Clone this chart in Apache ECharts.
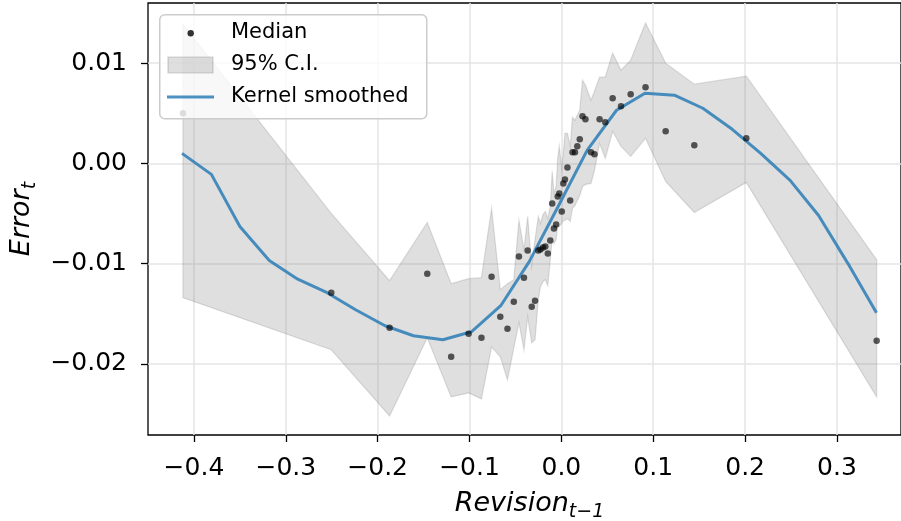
<!DOCTYPE html>
<html>
<head>
<meta charset="utf-8">
<title>Error vs revision</title>
<script src="https://cdn.jsdelivr.net/npm/echarts@6/dist/echarts.min.js"></script>
</head>
<body style="margin:0">
<div id="main" style="width:901px;height:521px;"></div>
<script>
// medians by revision bin, with 95% C.I. bounds
var medX = [-0.412, -0.2505, -0.187, -0.146, -0.120, -0.101, -0.087, -0.076, -0.0665, -0.0587,
            -0.0518, -0.0462, -0.0407, -0.0367, -0.0323, -0.0287, -0.0251, -0.0228, -0.0200, -0.0175,
            -0.0148, -0.0121, -0.0100, -0.0081, -0.0057, -0.0040, -0.0023, 0.0004, 0.0021, 0.0039,
            0.0066, 0.0096, 0.0121, 0.0148, 0.0173, 0.0200, 0.0230, 0.0262, 0.0322, 0.0360,
            0.0416, 0.0478, 0.0558, 0.0649, 0.0754, 0.0916, 0.1135, 0.1447, 0.2013, 0.3432];
var medY = [0.0050, -0.0129, -0.0164, -0.0110, -0.0193, -0.0170, -0.0174, -0.0113, -0.0153, -0.0165,
            -0.0138, -0.0093, -0.0114, -0.0087, -0.0143, -0.0137, -0.0087, -0.0086, -0.0084, -0.0083,
            -0.0090, -0.0077, -0.0040, -0.0065, -0.0061, -0.0033, -0.0030, -0.0048, -0.0020, -0.0016,
            -0.0004, -0.0037, 0.0011, 0.0011, 0.0017, 0.0024, 0.0047, 0.0044, 0.0011, 0.0009,
            0.0044, 0.0041, 0.0065, 0.0057, 0.0069, 0.0076, 0.0032, 0.0018, 0.0025, -0.0177];
var ciHi = [0.0139, -0.0050, -0.0117, -0.0059, -0.0120, -0.0115, -0.0114, -0.0045, -0.0126, -0.0120,
            -0.0116, -0.0057, -0.0086, -0.0053, -0.0103, -0.0076, -0.0053, -0.0060, -0.0051, -0.0048,
            -0.0055, -0.0043, -0.0008, -0.0030, -0.0023, 0.0005, 0.0017, -0.0005, 0.0010, 0.0030,
            0.0030, 0.0017, 0.0046, 0.0043, 0.0048, 0.0053, 0.0083, 0.0078, 0.0063, 0.0072,
            0.0086, 0.0086, 0.0110, 0.0093, 0.0103, 0.0140, 0.0100, 0.0079, 0.0087, -0.0096];
var ciLo = [-0.0134, -0.0186, -0.0252, -0.0174, -0.0233, -0.0229, -0.0235, -0.0183, -0.0193, -0.0216,
            -0.0184, -0.0159, -0.0186, -0.0153, -0.0179, -0.0176, -0.0136, -0.0123, -0.0118, -0.0116,
            -0.0122, -0.0096, -0.0075, -0.0080, -0.0076, -0.0062, -0.0063, -0.0060, -0.0057, -0.0057,
            -0.0055, -0.0058, -0.0045, -0.0042, -0.0037, -0.0032, -0.0023, -0.0021, -0.0020, -0.0007,
            0.0020, 0.0005, 0.0032, 0.0017, 0.0007, 0.0025, -0.0018, -0.0049, -0.0019, -0.0233];

// kernel smoothed curve
var smoothX = [-0.413, -0.381, -0.350, -0.318, -0.287, -0.255, -0.224, -0.192, -0.161, -0.129,
               -0.098, -0.066, -0.035, -0.003, 0.028, 0.060, 0.091, 0.123, 0.154, 0.186,
               0.217, 0.249, 0.280, 0.312, 0.343];
var smoothY = [0.0010, -0.0011, -0.0063, -0.0097, -0.01155, -0.0129, -0.0146, -0.0162, -0.0172, -0.0176,
               -0.0168, -0.0142, -0.0098, -0.0042, 0.0013, 0.0053, 0.0070, 0.0068, 0.0055, 0.0034,
               0.0010, -0.0017, -0.0052, -0.0100, -0.0149];

var xTicks = [-0.4, -0.3, -0.2, -0.1, 0.0, 0.1, 0.2, 0.3];
var yTicks = [-0.02, -0.01, 0.0, 0.01];

var FONT = 'DejaVu Sans';
var bandEdge = 'rgba(128,128,128,0.25)';
var bandFill = 'rgba(128,128,128,0.25)';
var lineColor = '#1f77b4';
var dotColor = 'rgba(0,0,0,0.8)';

function fmt(v, d) {
    var s = Math.abs(v).toFixed(d);
    return v < -1e-9 ? '\u2212' + s : s;
}

var nameRich = {
    a: {fontFamily: FONT, fontStyle: 'italic', fontSize: 27, color: '#000', lineHeight: 34, verticalAlign: 'middle'},
    b: {fontFamily: FONT, fontStyle: 'italic', fontSize: 19, color: '#000', lineHeight: 34, verticalAlign: 'top', padding: [16, 0, 0, 0]}
};

var myChart = echarts.init(document.getElementById('main'));
var option = {
    animation: false,
    grid: {
        left: 148, top: 3, right: 0, bottom: 86,
        containLabel: false, outerBoundsMode: 'none',
        show: true, borderColor: '#000', borderWidth: 1.3
    },
    xAxis: {
        type: 'value', min: -0.45, max: 0.3697,
        name: '{a|Revision}{b|t\u22121}',
        nameLocation: 'middle', nameGap: 52,
        nameTextStyle: {rich: nameRich, padding: [0, 0, 0, 10]},
        axisLine: {show: false, onZero: false},
        axisTick: {show: true, inside: false, length: 7, lineStyle: {color: '#000', width: 1.3}, customValues: xTicks},
        axisLabel: {fontFamily: FONT, fontSize: 25, color: '#000', margin: 21, customValues: xTicks,
                    formatter: function (v) { return fmt(v, 1); }},
        splitLine: {show: true, lineStyle: {color: '#e5e5e5', width: 1.5}}
    },
    yAxis: {
        type: 'value', min: -0.0271, max: 0.016,
        name: '{a|Error}{b|t}',
        nameLocation: 'middle', nameGap: 102, nameRotate: 90,
        nameTextStyle: {rich: nameRich},
        axisLine: {show: false, onZero: false},
        axisTick: {show: true, inside: false, length: 7, lineStyle: {color: '#000', width: 1.3}, customValues: yTicks},
        axisLabel: {fontFamily: FONT, fontSize: 25, color: '#000', margin: 21, customValues: yTicks,
                    formatter: function (v) { return fmt(v, 2); }},
        splitLine: {show: true, lineStyle: {color: '#e5e5e5', width: 1.5}}
    },
    // legend box drawn by hand so the three keys can have matplotlib sizes
    graphic: [
        {type: 'rect', left: 159, top: 14, z: 5, shape: {width: 267, height: 104, r: 5},
         style: {fill: 'rgba(255,255,255,0.8)', stroke: '#cccccc', lineWidth: 1.5}},
        {type: 'circle', z: 6, shape: {cx: 190.7, cy: 33.3, r: 3.2}, style: {fill: dotColor}},
        {type: 'rect', z: 6, shape: {x: 168, y: 57, width: 45, height: 16},
         style: {fill: bandFill, stroke: 'rgba(128,128,128,0.35)', lineWidth: 1.2}},
        {type: 'line', z: 6, shape: {x1: 167, y1: 97, x2: 214, y2: 97},
         style: {stroke: lineColor, lineWidth: 3, opacity: 0.8}},
        {type: 'text', z: 6, x: 231, y: 33, style: {text: 'Median', font: '21px "DejaVu Sans"', fill: '#000', verticalAlign: 'middle'}},
        {type: 'text', z: 6, x: 231, y: 65, style: {text: '95% C.I.', font: '21px "DejaVu Sans"', fill: '#000', verticalAlign: 'middle'}},
        {type: 'text', z: 6, x: 231, y: 97, style: {text: 'Kernel smoothed', font: '21px "DejaVu Sans"', fill: '#000', verticalAlign: 'middle'}}
    ],
    series: [
        {
            name: '95% C.I.', type: 'custom', z: 1, clip: true, silent: true,
            data: medX.map(function (x, i) { return [x, ciLo[i], ciHi[i]]; }),
            encode: {x: 0, y: [1, 2]},
            renderItem: function (params, api) {
                if (params.dataIndex !== 0) return;
                var upper = [], lower = [];
                for (var i = 0; i < medX.length; i++) {
                    upper.push(api.coord([medX[i], ciHi[i]]));
                    lower.push(api.coord([medX[i], ciLo[i]]));
                }
                return {
                    type: 'polygon',
                    shape: {points: upper.concat(lower.reverse())},
                    style: {fill: bandFill, stroke: bandEdge, lineWidth: 1.2}
                };
            }
        },
        {
            name: 'Kernel smoothed', type: 'line',
            data: smoothX.map(function (x, i) { return [x, smoothY[i]]; }),
            symbol: 'none', z: 3,
            lineStyle: {color: lineColor, width: 3, opacity: 0.8}
        },
        {
            name: 'Median', type: 'scatter',
            data: medX.map(function (x, i) { return [x, medY[i]]; }),
            symbolSize: 6.5, z: 4,
            itemStyle: {color: dotColor}
        }
    ]
};
myChart.setOption(option);
</script>
</body>
</html>
